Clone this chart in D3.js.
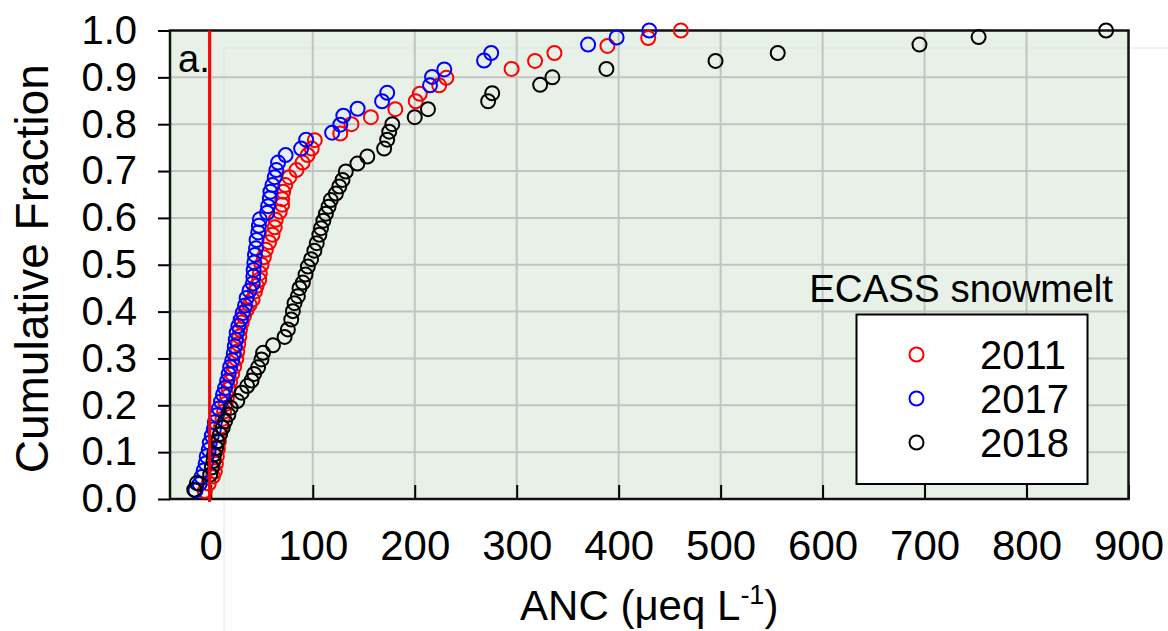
<!DOCTYPE html>
<html>
<head>
<meta charset="utf-8">
<script src="https://cdn.jsdelivr.net/npm/d3@7"></script>
<style>
  body { margin: 0; background: #fff; }
  svg text { font-family: "Liberation Sans", Arial, sans-serif; fill: #000; }
</style>
</head>
<body>
<script>
"use strict";

// ANC (ueq/L) and cumulative fraction of each sample
const anc2011 = [-6, -2, 2, 4, 5, 6, 7, 8, 9, 10, 11.5, 13, 14.5, 16, 17.5, 19, 21, 23, 25, 26,
    27, 28, 28.7, 30.4, 32.5, 35.2, 38, 41, 43.3, 45, 47.5, 48.1, 49.8, 52, 54, 57.2, 60.5, 62.7, 63.7, 67.6,
    70, 70, 71, 73, 77, 84, 90, 95, 99, 102, 127, 138, 157, 181, 201, 205, 224, 231, 295, 318,
    337, 389, 429, 461];
const frac2011 = [0.017, 0.033, 0.048, 0.059, 0.075, 0.091, 0.107, 0.123, 0.139, 0.155, 0.171, 0.187, 0.203, 0.219, 0.235, 0.251, 0.267, 0.283, 0.299, 0.315,
    0.331, 0.347, 0.362, 0.377, 0.390, 0.404, 0.415, 0.426, 0.443, 0.455, 0.468, 0.482, 0.500, 0.516, 0.532, 0.548, 0.564, 0.580, 0.596, 0.613,
    0.628, 0.640, 0.656, 0.670, 0.687, 0.702, 0.718, 0.734, 0.748, 0.766, 0.780, 0.800, 0.815, 0.832, 0.849, 0.865, 0.883, 0.899, 0.918, 0.935,
    0.952, 0.967, 0.984, 1.000];

const anc2017 = [-15, -11, -9, -7, -5, -4, -2, -1, 1, 3, 4, 6, 8, 10, 12, 14, 16, 17.5, 19, 21,
    22.5, 23.5, 24.5, 25.4, 27, 29.3, 31.3, 33.6, 35.2, 38, 41.2, 41.7, 42, 42.7, 43.3, 44.3, 44.9, 46.5, 47.2, 48.1,
    55.3, 56.2, 57.9, 58.5, 60.5, 62.7, 64.3, 66, 73.4, 88.6, 93.5, 119, 127, 130, 144, 168, 173, 215, 217, 229,
    268, 275, 370, 398, 430];
const frac2017 = [0.018, 0.032, 0.047, 0.061, 0.076, 0.091, 0.105, 0.120, 0.135, 0.149, 0.164, 0.179, 0.193, 0.208, 0.223, 0.237, 0.252, 0.267, 0.282, 0.296,
    0.311, 0.326, 0.340, 0.355, 0.369, 0.383, 0.397, 0.413, 0.429, 0.445, 0.460, 0.475, 0.489, 0.505, 0.521, 0.535, 0.553, 0.569, 0.583, 0.597,
    0.611, 0.625, 0.642, 0.656, 0.670, 0.687, 0.702, 0.718, 0.734, 0.748, 0.767, 0.782, 0.799, 0.818, 0.833, 0.849, 0.867, 0.883, 0.901, 0.917,
    0.936, 0.952, 0.970, 0.985, 1.000];

const anc2018 = [-16.2, -13.6, -0.6, 1, 2.6, 3.2, 5.2, 6.5, 9.1, 11.7, 14, 17.2, 19.5, 26, 30.2, 35.7, 40, 42.5, 46.4, 49.7,
    51.3, 61, 72.4, 75.6, 78.9, 80.5, 82.1, 85.4, 87, 90.3, 92.9, 95.2, 98.4, 101.6, 103.9, 106.5, 108.1, 110.4, 112.9, 115.5,
    117.7, 122.7, 126, 129.2, 132.4, 143.8, 153.5, 170, 173, 175, 178, 200, 213, 272, 276, 323, 335, 388, 495, 556,
    695, 753, 878];
const frac2018 = [0.020, 0.034, 0.052, 0.067, 0.081, 0.095, 0.109, 0.123, 0.138, 0.152, 0.166, 0.180, 0.195, 0.209, 0.227, 0.241, 0.253, 0.267, 0.281, 0.298,
    0.312, 0.328, 0.346, 0.362, 0.383, 0.401, 0.418, 0.433, 0.450, 0.462, 0.479, 0.496, 0.512, 0.530, 0.546, 0.564, 0.578, 0.594, 0.609, 0.624,
    0.638, 0.652, 0.667, 0.681, 0.699, 0.716, 0.731, 0.748, 0.767, 0.784, 0.800, 0.815, 0.832, 0.849, 0.866, 0.884, 0.900, 0.918, 0.935, 0.952,
    0.970, 0.986, 1.000];

const years = ["2011", "2017", "2018"];
const colors = ["#ff0000", "#0000ff", "#000000"];
const xTicks = [0, 100, 200, 300, 400, 500, 600, 700, 800, 900];
const yTicks = [0, 0.1, 0.2, 0.3, 0.4, 0.5, 0.6, 0.7, 0.8, 0.9, 1.0];

const W = 1168, H = 631;
const plot = {left: 170, right: 1128.5, top: 30.5, bottom: 499};

const svg = d3.select("body").append("svg")
    .attr("width", W)
    .attr("height", H);

const x = d3.scaleLinear().domain([-40, 900]).range([plot.left, plot.right]);
const y = d3.scaleLinear().domain([0, 1]).range([plot.bottom, plot.top]);

// plot background
svg.append("rect")
    .attr("x", plot.left).attr("y", plot.top)
    .attr("width", plot.right - plot.left)
    .attr("height", plot.bottom - plot.top)
    .attr("fill", "#e8f1e8");

// faint frame lines left over in the figure
svg.append("path")
    .attr("d", "M224," + H + "V48H" + W)
    .attr("fill", "none")
    .attr("stroke", "#dde8dd")
    .attr("stroke-width", 1);

// gridlines
svg.append("g").selectAll("line")
    .data(xTicks.filter(d => d < 900))
    .enter().append("line")
    .attr("x1", d => x(d)).attr("x2", d => x(d))
    .attr("y1", plot.top).attr("y2", plot.bottom)
    .attr("stroke", "#c3c3c3").attr("stroke-width", 2);

svg.append("g").selectAll("line")
    .data(yTicks.filter(d => d > 0 && d < 1))
    .enter().append("line")
    .attr("x1", plot.left).attr("x2", plot.right)
    .attr("y1", d => y(d)).attr("y2", d => y(d))
    .attr("stroke", "#c3c3c3").attr("stroke-width", 2);

// axes
let xAxis = svg.append("g")
    .attr("transform", "translate(0," + plot.bottom + ")")
    .call(d3.axisBottom(x).tickValues(xTicks).tickSizeInner(-14).tickSizeOuter(0).tickPadding(31));
xAxis.select(".domain").remove();
xAxis.selectAll("line").attr("stroke", "#000").attr("stroke-width", 2);
xAxis.selectAll("text").attr("font-size", 42).attr("fill", "#000");

let yAxis = svg.append("g")
    .attr("transform", "translate(" + plot.left + ",0)")
    .call(d3.axisLeft(y).tickValues(yTicks).tickFormat(d3.format(".1f")).tickSizeInner(12).tickSizeOuter(0).tickPadding(21));
yAxis.select(".domain").remove();
yAxis.selectAll("line").attr("stroke", "#000").attr("stroke-width", 2);
yAxis.selectAll("text").attr("font-size", 40).attr("fill", "#000");

// frame
svg.append("rect")
    .attr("x", plot.left).attr("y", plot.top)
    .attr("width", plot.right - plot.left)
    .attr("height", plot.bottom - plot.top)
    .attr("fill", "none")
    .attr("stroke", "#111")
    .attr("stroke-width", 2.5);

// legend box (under the points, over the grid)
svg.append("rect")
    .attr("x", 856.5).attr("y", 314.5)
    .attr("width", 231).attr("height", 169.5)
    .attr("fill", "#fff")
    .attr("stroke", "#000")
    .attr("stroke-width", 2);

let series = [[anc2011, frac2011], [anc2017, frac2017], [anc2018, frac2018]].map(function(s, i) {
    return s[0].map((v, k) => ({anc: v, frac: s[1][k], color: colors[i]}));
});

series.forEach(function(pts) {
    svg.append("g").selectAll("circle")
        .data(pts)
        .enter().append("circle")
        .attr("cx", d => x(d.anc))
        .attr("cy", d => y(d.frac))
        .attr("r", 7)
        .attr("fill", "none")
        .attr("stroke", d => d.color)
        .attr("stroke-width", 2);
});

// ANC = 0 reference line
svg.append("line")
    .attr("x1", x(-1.2)).attr("x2", x(-1.2))
    .attr("y1", plot.top).attr("y2", plot.bottom + 3)
    .attr("stroke", "#ff0000")
    .attr("stroke-width", 3);

// legend entries
let legend = svg.append("g");
years.forEach(function(yr, i) {
    legend.append("circle")
        .attr("cx", 916.5).attr("cy", 354.5 + i * 44)
        .attr("r", 7)
        .attr("fill", "none")
        .attr("stroke", colors[i])
        .attr("stroke-width", 2);
    legend.append("text")
        .attr("x", 980).attr("y", 354.5 + i * 44)
        .attr("dy", "0.36em")
        .attr("font-size", 40)
        .text(yr);
});

svg.append("text")
    .attr("x", 1113).attr("y", 302)
    .attr("text-anchor", "end")
    .attr("font-size", 38.5)
    .text("ECASS snowmelt");

svg.append("text")
    .attr("x", 178).attr("y", 72)
    .attr("font-size", 38)
    .text("a.");

// axis titles
svg.append("text")
    .attr("transform", "translate(48," + ((plot.top + plot.bottom) / 2 + 4) + ") rotate(-90)")
    .attr("text-anchor", "middle")
    .attr("font-size", 46)
    .text("Cumulative Fraction");

let xt = svg.append("text")
    .attr("x", (plot.left + plot.right) / 2)
    .attr("y", 620)
    .attr("text-anchor", "middle")
    .attr("font-size", 42);
xt.append("tspan").text("ANC (\u03bceq L");
xt.append("tspan").attr("dy", -16).attr("font-size", 27).text("-1");
xt.append("tspan").attr("dy", 16).text(")");
</script>
</body>
</html>
